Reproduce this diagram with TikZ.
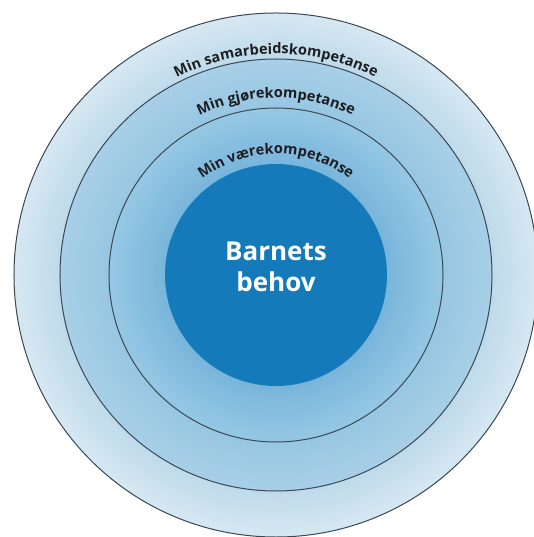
\documentclass[tikz,border=0pt]{standalone}
\usepackage{fontspec}
\setmainfont{Open Sans}
\usetikzlibrary{decorations.text}

\definecolor{ringline}{RGB}{58,72,84}
\definecolor{arctext}{RGB}{28,30,34}
\definecolor{behovblue}{RGB}{20,122,185}

\begin{document}
\begin{tikzpicture}[x=1pt,y=1pt,
    ring/.style={circle, draw=ringline, line width=1pt, inner sep=0pt},
    arclabel/.style={decorate, decoration={text along path, text align=center,
        text={|\fontsize{14.5}{16}\selectfont\bfseries\color{arctext}|#1}}}]
    \clip (-276,-262) rectangle (258,275);
    \node[ring, minimum size=524pt, inner color={rgb,255:red,77;green,152;blue,197},
        outer color={rgb,255:red,214;green,232;blue,242}] (samarbeid) at (0,0) {};
    \node[ring, minimum size=432pt, inner color={rgb,255:red,93;green,170;blue,212},
        outer color={rgb,255:red,168;green,207;blue,231}] (gjore) at (samarbeid) {};
    \node[ring, minimum size=334pt, inner color={rgb,255:red,62;green,144;blue,201},
        outer color={rgb,255:red,150;green,200;blue,228}] (vare) at (samarbeid) {};
    \node[circle, fill=behovblue, minimum size=222pt, inner sep=0pt] (behov) at (samarbeid) {};
    \node[text=white, align=center, font=\fontsize{26}{31}\selectfont\bfseries] (barnets)
        at ([yshift=8pt]behov.center) {Barnets\\behov};
    % tekst langs sirklene
    \path[arclabel=Min samarbeidskompetanse] (samarbeid.center) ++(160:221) arc[start angle=160, end angle=20, radius=221];
    \path[arclabel=Min gjørekompetanse] (gjore.center) ++(160:177) arc[start angle=160, end angle=20, radius=177];
    \path[arclabel=Min værekompetanse] (vare.center) ++(160:121) arc[start angle=160, end angle=20, radius=121];
\end{tikzpicture}
\end{document}
